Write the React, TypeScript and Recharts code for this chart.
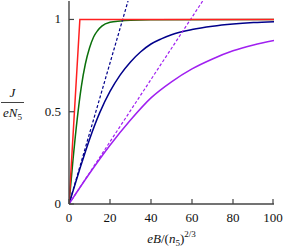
import React from "react";
import { LineChart, Line, XAxis, YAxis } from "recharts";

const X_TICKS = [0, 20, 40, 60, 80, 100];
const Y_TICKS = [0, 0.5, 1];

// curves: [x, J/eN5]
const RED_PTS = [[0, 0], [5.3, 1], [100, 1]];
const GREEN_PTS = [
  [0, 0], [2, 0.245], [4, 0.46], [6, 0.635], [8, 0.76], [10, 0.845], [12, 0.905],
  [14, 0.94], [16, 0.964], [20, 0.985], [25, 0.992], [30, 0.996], [40, 0.999], [100, 1],
];
const BLUE_PTS = [
  [0, 0], [5, 0.18], [10, 0.35], [15, 0.495], [20, 0.61], [25, 0.7], [30, 0.77],
  [35, 0.825], [40, 0.867], [45, 0.895], [50, 0.917], [60, 0.945], [70, 0.963], [80, 0.975], [90, 0.983], [100, 0.988],
];
const PURPLE_PTS = [
  [0, 0], [10, 0.165], [20, 0.318], [30, 0.455], [40, 0.575], [50, 0.662], [60, 0.732],
  [70, 0.786], [80, 0.83], [90, 0.862], [100, 0.886],
];
const BLUE_SLOPE_PTS = [[0, 0], [28.8, 1.1]];
const PURPLE_SLOPE_PTS = [[0, 0], [65.2, 1.1]];

const toRows = (pts: number[][]) => pts.map(([x, y]) => ({ x, y }));

const FONT = "'Liberation Serif', 'DejaVu Serif', serif";
const FRAME = "#444";
const TXT = { fontFamily: FONT, fontSize: 13, fill: "#111" };

const BottomTick = ({ x, y, payload }: any) => (
  <g>
    <line x1={x} y1={y} x2={x} y2={y - 5} stroke={FRAME} strokeWidth={1.2} />
    <text x={x} y={y + 18} textAnchor="middle" style={TXT}>
      {payload.value}
    </text>
  </g>
);

const TopTick = ({ x, y }: any) => (
  <line x1={x} y1={y} x2={x} y2={y + 5} stroke={FRAME} strokeWidth={1.2} />
);

const LeftTick = ({ x, y, payload }: any) => (
  <g>
    <line x1={x} y1={y} x2={x + 5} y2={y} stroke={FRAME} strokeWidth={1.2} />
    <text x={x - 8} y={y + 4} textAnchor="end" style={TXT}>
      {payload.value}
    </text>
  </g>
);

const RightTick = ({ x, y }: any) => (
  <line x1={x} y1={y} x2={x - 5} y2={y} stroke={FRAME} strokeWidth={1.2} />
);

const XLabel = ({ viewBox }: any) => {
  const vb = viewBox ?? { x: 69, y: 204, width: 205, height: 43 };
  return (
    <text x={vb.x + vb.width / 2} y={vb.y + 39} textAnchor="middle" style={TXT}>
      <tspan fontStyle="italic">eB</tspan>
      <tspan>/(</tspan>
      <tspan fontStyle="italic">n</tspan>
      <tspan fontSize={9} dy={3}>5</tspan>
      <tspan dy={-3}>)</tspan>
      <tspan fontSize={9} dy={-6}>2/3</tspan>
    </text>
  );
};

const YLabel = ({ viewBox }: any) => {
  const vb = viewBox ?? { x: 0, y: 1, width: 69, height: 203 };
  const cy = vb.y + vb.height / 2;
  const cx = vb.x + 12.5;
  return (
    <g>
      <text x={cx} y={cy - 6} textAnchor="middle" style={{ ...TXT, fontStyle: "italic" }}>J</text>
      <line x1={vb.x + 1} y1={cy} x2={vb.x + 24} y2={cy} stroke="#111" strokeWidth={0.8} />
      <text x={cx} y={cy + 14} textAnchor="middle" style={TXT}>
        <tspan fontStyle="italic">eN</tspan>
        <tspan fontSize={9} dy={3}>5</tspan>
      </text>
    </g>
  );
};

export default function App() {
  const axisLine = { stroke: FRAME, strokeWidth: 1.4 };
  return (
    <div style={{ position: "absolute", left: 0, top: 0 }}>
      <LineChart width={285} height={247} margin={{ top: 1, right: 11, bottom: 0, left: 0 }}>
        <XAxis
          xAxisId="b"
          type="number"
          dataKey="x"
          domain={[0, 100]}
          ticks={X_TICKS}
          allowDataOverflow
          height={43}
          axisLine={axisLine}
          tickLine={false}
          tickSize={0}
          tickMargin={0}
          tick={<BottomTick />}
          label={<XLabel />}
        />
        <XAxis
          xAxisId="t"
          orientation="top"
          type="number"
          dataKey="x"
          domain={[0, 100]}
          ticks={X_TICKS}
          height={0}
          axisLine={axisLine}
          tickLine={false}
          tickSize={0}
          tickMargin={0}
          tick={<TopTick />}
        />
        <YAxis
          yAxisId="l"
          type="number"
          domain={[0, 1.1]}
          ticks={Y_TICKS}
          allowDataOverflow
          width={69}
          axisLine={axisLine}
          tickLine={false}
          tickSize={0}
          tickMargin={0}
          tick={<LeftTick />}
          label={<YLabel />}
        />
        <YAxis
          yAxisId="r"
          orientation="right"
          type="number"
          domain={[0, 1.1]}
          ticks={Y_TICKS}
          width={0}
          axisLine={axisLine}
          tickLine={false}
          tickSize={0}
          tickMargin={0}
          tick={<RightTick />}
        />
        <Line xAxisId="b" yAxisId="l" data={toRows(GREEN_PTS)} dataKey="y" type="monotone" stroke="#0b700b" strokeWidth={1.5} dot={false} isAnimationActive={false} />
        <Line xAxisId="b" yAxisId="l" data={toRows(BLUE_PTS)} dataKey="y" type="monotone" stroke="#00008b" strokeWidth={1.5} dot={false} isAnimationActive={false} />
        <Line xAxisId="b" yAxisId="l" data={toRows(PURPLE_PTS)} dataKey="y" type="monotone" stroke="#a020f0" strokeWidth={1.5} dot={false} isAnimationActive={false} />
        <Line xAxisId="b" yAxisId="l" data={toRows(BLUE_SLOPE_PTS)} dataKey="y" type="linear" stroke="#00008b" strokeWidth={1.2} strokeDasharray="3 2" dot={false} isAnimationActive={false} />
        <Line xAxisId="b" yAxisId="l" data={toRows(PURPLE_SLOPE_PTS)} dataKey="y" type="linear" stroke="#a020f0" strokeWidth={1.2} strokeDasharray="3 2" dot={false} isAnimationActive={false} />
        <Line xAxisId="b" yAxisId="l" data={toRows(RED_PTS)} dataKey="y" type="linear" stroke="#ff2020" strokeWidth={1.5} dot={false} isAnimationActive={false} />
      </LineChart>
    </div>
  );
}
